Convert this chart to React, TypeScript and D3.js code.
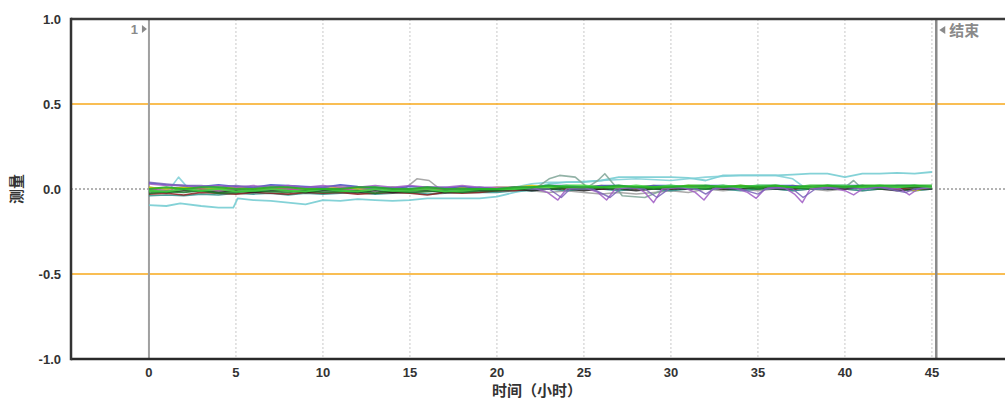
import React from 'react';
import * as d3 from 'd3';

const W = 1005;
const H = 401;

const hours = [
  0, 1, 2, 3, 4, 5, 6, 7, 8, 9,
  10, 11, 12, 13, 14, 15, 16, 17, 18, 19,
  20, 21, 22, 23, 24, 25, 26, 27, 28, 29,
  30, 31, 32, 33, 34, 35, 36, 37, 38, 39,
  40, 41, 42, 43, 44, 45,
];

const xTicks = [0, 5, 10, 15, 20, 25, 30, 35, 40, 45];
const yTicks = [1.0, 0.5, 0.0, -0.5, -1.0];
const yTickLabels = ['1.0', '0.5', '0.0', '-0.5', '-1.0'];
const limitLines = [0.5, -0.5];
const startMarker = { t: 0, label: '1' };
const endMarker = { t: 45.25, label: '结束' };
const xTitle = '时间（小时）';
const yTitle = '测量';

// hourly series
const greenSeries = [
  0.00, 0.01, 0.00, 0.01, 0.01, 0.00, 0.00, 0.01, 0.01, 0.00,
  0.00, 0.00, 0.01, 0.01, 0.00, 0.00, 0.01, 0.00, 0.00, 0.00,
  0.00, 0.01, 0.01, 0.02, 0.01, 0.01, 0.01, 0.02, 0.01, 0.01,
  0.01, 0.02, 0.02, 0.01, 0.02, 0.01, 0.02, 0.01, 0.02, 0.02,
  0.01, 0.02, 0.02, 0.02, 0.02, 0.02,
];
const limeSeries = [
  -0.01, -0.015, 0.00, -0.01, 0.00, -0.015, -0.01, 0.00, -0.01, -0.015,
  0.00, -0.01, -0.015, 0.00, -0.01, -0.01, 0.00, -0.015, -0.01, 0.00,
  0.00, 0.00, 0.01, 0.01, 0.02, 0.02, 0.01, 0.01, 0.02, 0.01,
  0.02, 0.01, 0.01, 0.02, 0.01, 0.02, 0.02, 0.01, 0.01, 0.02,
  0.02, 0.01, 0.02, 0.01, 0.02, 0.01,
];
const darkGreenSeries = [
  -0.025, -0.015, -0.02, -0.01, -0.025, -0.02, -0.01, -0.015, -0.02, -0.01,
  -0.02, -0.015, -0.01, -0.025, -0.01, -0.02, -0.015, -0.01, -0.02, -0.01,
  -0.01, 0.00, 0.00, 0.00, 0.01, 0.00, 0.01, 0.00, 0.01, 0.00,
  0.01, 0.01, 0.00, 0.01, 0.01, 0.00, 0.01, 0.01, 0.00, 0.01,
  0.01, 0.01, 0.00, 0.01, 0.01, 0.01,
];
const blackSeries = [
  -0.01, -0.02, -0.01, -0.01, -0.02, -0.01, -0.02, -0.01, -0.01, -0.02,
  -0.01, -0.01, -0.02, -0.01, -0.02, -0.01, -0.01, -0.02, -0.01, -0.01,
  -0.01, 0.00, -0.01, 0.00, 0.00, -0.01, 0.00, 0.00, -0.01, 0.00,
  0.00, 0.00, 0.01, 0.00, 0.00, 0.01, 0.00, 0.00, 0.01, 0.00,
  0.00, 0.01, 0.00, -0.01, 0.00, 0.00,
];
const darkRedSeries = [
  -0.03, -0.025, -0.035, -0.02, -0.025, -0.03, -0.02, -0.025, -0.03, -0.02,
  -0.025, -0.02, -0.03, -0.025, -0.02, -0.025, -0.035, -0.02, -0.025, -0.02,
  -0.01, -0.01, 0.00, 0.00, 0.01, 0.00, 0.00, 0.01, 0.00, 0.01,
  0.00, 0.01, 0.01, 0.00, 0.01, 0.01, 0.01, 0.00, 0.01, 0.01,
  0.01, 0.01, 0.01, 0.00, 0.01, 0.01,
];
const blueSeries = [
  0.035, 0.025, 0.02, 0.015, 0.025, 0.015, 0.01, 0.025, 0.02, 0.015,
  0.01, 0.025, 0.015, 0.01, 0.005, 0.015, 0.01, 0.005, 0.015, 0.005,
  0.00, 0.01, 0.01, 0.02, 0.02, 0.01, 0.02, 0.02, 0.01, 0.02,
  0.02, 0.01, 0.02, 0.02, 0.01, 0.02, 0.02, 0.02, 0.01, 0.02,
  0.02, 0.02, 0.01, 0.02, 0.02, 0.01,
];
const yellowSeries = [
  0.01, 0.00, 0.01, 0.00, 0.00, 0.01, 0.00, 0.00, 0.01, 0.00,
  0.00, 0.01, 0.00, 0.00, 0.01, 0.00, 0.00, 0.00, 0.01, 0.00,
  0.01, 0.01, 0.02, 0.01, 0.00, 0.01, 0.02, 0.01, 0.01, 0.02,
  0.01, 0.02, 0.01, 0.01, 0.02, 0.01, 0.01, 0.02, 0.01, 0.02,
  0.01, 0.02, 0.01, 0.01, -0.01, 0.01,
];
const magentaSeries = [
  0.00, -0.01, 0.00, 0.00, -0.01, 0.00, -0.01, 0.00, 0.00, -0.01,
  0.00, 0.00, -0.01, 0.00, 0.00, -0.01, 0.00, 0.00, -0.01, 0.00,
  0.00, 0.00, 0.01, 0.00, 0.01, 0.01, 0.00, 0.01, 0.01, 0.00,
  0.01, 0.00, 0.01, 0.01, 0.00, 0.01, 0.01, 0.00, 0.01, 0.01,
  0.00, 0.01, 0.01, 0.00, 0.01, 0.01,
];
const darkTealSeries = [
  -0.04, -0.035, -0.04, -0.03, -0.035, -0.025, -0.03, -0.025, -0.035, -0.025,
  -0.03, -0.025, -0.02, -0.03, -0.025, -0.02, -0.03, -0.025, -0.02, -0.02,
  -0.02, -0.01, -0.01, 0.00, -0.01, 0.00, 0.00, -0.01, 0.00, 0.00,
  -0.01, 0.00, 0.00, 0.00, -0.01, 0.00, 0.00, -0.01, 0.00, 0.00,
  0.00, -0.01, 0.00, 0.00, -0.01, 0.00,
];

// irregularly sampled series: [hour, value]
const cyanAPoints: [number, number][] = [
  [0, -0.095], [1, -0.10], [1.8, -0.085], [3, -0.10], [4, -0.11], [4.85, -0.11], [5.1, -0.055], [6, -0.065],
  [7, -0.07], [8, -0.08], [9, -0.09], [10, -0.065], [11, -0.07], [12, -0.06], [13, -0.065], [14, -0.07],
  [15, -0.065], [16, -0.055], [17, -0.055], [18, -0.055], [19, -0.055], [20, -0.045], [21, -0.02], [22, 0.0],
  [23, 0.03], [24, 0.04], [25, 0.04], [26, 0.05], [27, 0.07], [28, 0.07], [29, 0.07], [30, 0.07], [31, 0.065],
  [32, 0.05], [33, 0.08], [34, 0.08], [35, 0.08], [36, 0.08], [37, 0.085], [38, 0.09], [39, 0.09], [40, 0.07],
  [41, 0.09], [42, 0.09], [43, 0.095], [44, 0.09], [45, 0.10],
];
const purplePoints: [number, number][] = [
  [0, 0.03], [1, 0.02], [2, 0.02], [3, 0.01], [4, 0.02], [5, 0.01], [6, 0.02], [7, 0.01], [8, 0.02], [9, 0.01],
  [10, 0.02], [11, 0.01], [12, 0.01], [13, 0.02], [14, 0.01], [15, 0.02], [16, 0.01], [17, 0.01], [18, 0.02], [19, 0.01],
  [20, 0.01], [21, 0.01], [22, 0.01], [22.9, -0.02], [23.5, -0.065], [24.0, 0.0], [25, 0.01], [25.8, -0.02], [26.3, -0.065],
  [26.8, 0.0], [28, 0.01], [28.5, -0.02], [29.0, -0.08], [29.5, 0.0], [30.7, 0.01], [31.4, -0.02], [31.9, -0.065], [32.4, 0.0],
  [33.5, 0.01], [34.4, -0.02], [34.9, -0.055], [35.4, 0.0], [36.5, 0.01], [37.1, -0.03], [37.55, -0.08], [38.0, 0.0], [39, 0.01],
  [40, -0.01], [40.5, -0.035], [41, 0.0], [42, 0.01], [43.2, 0.0], [43.7, -0.035], [44.2, 0.0], [45, 0.01],
];
const violetPoints: [number, number][] = [
  [0, 0.04], [1, 0.03], [2, 0.02], [3, 0.02], [4, 0.01], [5, 0.02], [6, 0.01], [7, 0.02], [8, 0.01], [9, 0.01],
  [10, 0.01], [11, 0.02], [12, 0.01], [13, 0.00], [14, 0.01], [15, 0.00], [16, 0.01], [17, 0.01], [18, 0.00], [19, 0.01],
  [20, 0.00], [21, 0.01], [22, 0.00], [23, 0.00], [23.7, -0.05], [24.2, 0.00], [25.5, 0.00], [26.5, -0.05], [27.2, 0.01],
  [28.5, 0.00], [29.2, -0.05], [30, 0.01], [31.5, 0.00], [32.0, -0.03], [32.6, 0.01], [34, 0.00], [35.0, -0.03], [35.6, 0.01],
  [37.0, 0.00], [37.6, -0.05], [38.3, 0.00], [40, 0.01], [41, 0.00], [42, 0.01], [43.5, -0.02], [44, 0.00], [45, 0.01],
];
const grayPoints: [number, number][] = [
  [0, 0.01], [1, 0.00], [2, 0.01], [3, 0.00], [4, 0.00], [5, 0.01], [6, 0.00], [7, 0.01], [8, 0.00], [9, 0.00],
  [10, 0.01], [11, 0.00], [12, 0.00], [13, 0.01], [14, 0.00], [14.8, 0.01], [15.4, 0.06], [16.1, 0.05], [16.6, 0.01],
  [17, 0.00], [18, 0.00], [19, 0.01], [20, 0.00], [21, 0.00], [22, -0.01], [23, -0.02], [24, -0.01], [25, -0.02],
  [26, -0.03], [27, -0.02], [28, -0.03], [29, -0.02], [30, -0.01], [31, -0.02], [32, 0.00], [33, -0.01], [34, 0.00],
  [35, -0.01], [36, 0.00], [37, -0.01], [38, 0.00], [39, -0.01], [40, 0.00], [41, -0.01], [42, 0.00], [43, 0.00],
  [44, -0.01], [45, 0.00],
];
const grayGreenPoints: [number, number][] = [
  [0, 0.00], [2, 0.01], [4, 0.00], [6, 0.01], [8, 0.00], [10, 0.00], [12, 0.01], [14, 0.00], [16, 0.00], [18, 0.01],
  [20, 0.00], [21, 0.01], [22.3, 0.01], [23.0, 0.06], [23.6, 0.08], [24.5, 0.07], [25.2, 0.01], [25.8, 0.05],
  [26.2, 0.09], [26.7, 0.03], [27.2, -0.04], [28.5, -0.05], [29.2, -0.02], [30, 0.00], [32, 0.01], [34, 0.00],
  [36, 0.01], [38, 0.00], [40, 0.01], [40.5, 0.05], [41, 0.00], [42, 0.01], [44, 0.00], [45, 0.01],
];
const cyanBPoints: [number, number][] = [
  [0, -0.01], [1.2, 0.00], [1.7, 0.07], [2.3, 0.00], [3, -0.01], [4, -0.01], [5, 0.00], [6, -0.01], [8, 0.00],
  [10, -0.01], [12, 0.00], [14, -0.01], [16, 0.00], [18, -0.01], [20, 0.00], [21, 0.01], [22, 0.03], [23, 0.04],
  [24, 0.04], [26, 0.05], [28, 0.06], [30, 0.05], [31, 0.06], [32, 0.07], [34, 0.08], [35, 0.08], [36, 0.08],
  [37, 0.06], [37.8, 0.00], [39, 0.01], [41, 0.01], [43, 0.00], [45, 0.01],
];

const hourly = (vals: number[]): [number, number][] => hours.map((h, i) => [h, vals[i]]);

const seriesList: { name: string; color: string; width: number; pts: [number, number][] }[] = [
  { name: 'cyanA', color: '#6fcad0', width: 1.8, pts: cyanAPoints },
  { name: 'cyanB', color: '#7ccfd6', width: 1.6, pts: cyanBPoints },
  { name: 'gray', color: '#9a9a9a', width: 1.5, pts: grayPoints },
  { name: 'grayGreen', color: '#7fa597', width: 1.6, pts: grayGreenPoints },
  { name: 'darkTeal', color: '#2f8f8a', width: 1.6, pts: hourly(darkTealSeries) },
  { name: 'yellow', color: '#d4c400', width: 1.6, pts: hourly(yellowSeries) },
  { name: 'magenta', color: '#c0409a', width: 1.6, pts: hourly(magentaSeries) },
  { name: 'blue', color: '#3a4fc8', width: 1.6, pts: hourly(blueSeries) },
  { name: 'darkRed', color: '#8b1f1f', width: 1.6, pts: hourly(darkRedSeries) },
  { name: 'black', color: '#222222', width: 1.6, pts: hourly(blackSeries) },
  { name: 'darkGreen', color: '#1d7a2a', width: 1.8, pts: hourly(darkGreenSeries) },
  { name: 'purple', color: '#a05cc4', width: 1.5, pts: purplePoints },
  { name: 'violet', color: '#7a62b8', width: 1.5, pts: violetPoints },
  { name: 'lime', color: '#3fd43f', width: 2, pts: hourly(limeSeries) },
  { name: 'green', color: '#22b022', width: 2, pts: hourly(greenSeries) },
];

const FONT = "'Liberation Sans', Arial, 'Noto Sans CJK SC', sans-serif";

export default function App() {
  const left = 71;
  const top = 19;
  const bottom = 359;
  const x = d3.scaleLinear().domain([-4.48, 49.2]).range([left, W]);
  const y = d3.scaleLinear().domain([-1, 1]).range([bottom, top]);
  const line = d3
    .line<[number, number]>()
    .x((d) => x(d[0]))
    .y((d) => y(d[1]));

  return (
    <svg
      width={W}
      height={H}
      style={{ position: 'absolute', left: 0, top: 0, background: '#fff' }}
      fontFamily={FONT}
    >
      <rect x={0} y={0} width={W} height={H} fill="#fff" />
      {xTicks.map((t) => (
        <line
          key={'g' + t}
          x1={x(t)}
          x2={x(t)}
          y1={top}
          y2={bottom}
          stroke="#c8c8c8"
          strokeWidth={1}
          strokeDasharray="2,2"
        />
      ))}
      {limitLines.map((v) => (
        <line key={'l' + v} x1={left} x2={W} y1={y(v)} y2={y(v)} stroke="#f7a81b" strokeWidth={1.6} />
      ))}
      <line x1={left} x2={W} y1={y(0)} y2={y(0)} stroke="#666" strokeWidth={1} strokeDasharray="2,2" />
      <line x1={x(startMarker.t)} x2={x(startMarker.t)} y1={top} y2={bottom} stroke="#a0a0a0" strokeWidth={2} />
      <line x1={x(endMarker.t)} x2={x(endMarker.t)} y1={top} y2={bottom} stroke="#8a8a8a" strokeWidth={2.5} />
      {seriesList.map((s) => (
        <path
          key={s.name}
          d={line(s.pts) || ''}
          fill="none"
          stroke={s.color}
          strokeWidth={s.width}
          strokeLinejoin="round"
          strokeOpacity={0.85}
        />
      ))}
      <text x={x(startMarker.t) - 11} y={top + 15} fontSize={13} fontWeight="bold" fill="#8a8a8a" textAnchor="end">
        {startMarker.label}
      </text>
      <path
        d={`M${x(startMarker.t) - 7},${top + 6} L${x(startMarker.t) - 2},${top + 10} L${x(startMarker.t) - 7},${top + 14} Z`}
        fill="#8a8a8a"
      />
      <path
        d={`M${x(endMarker.t) + 9},${top + 7} L${x(endMarker.t) + 3},${top + 11} L${x(endMarker.t) + 9},${top + 15} Z`}
        fill="#8a8a8a"
      />
      <text x={x(endMarker.t) + 13} y={top + 17} fontSize={15} fontWeight="bold" fill="#8a8a8a">
        {endMarker.label}
      </text>
      <line x1={left} x2={W} y1={top} y2={top} stroke="#3a3a3a" strokeWidth={2.5} />
      <line x1={left} x2={W} y1={bottom} y2={bottom} stroke="#2a2a2a" strokeWidth={2.5} />
      <line x1={left} x2={left} y1={top - 1.25} y2={bottom + 1.25} stroke="#333" strokeWidth={2.5} />
      {yTicks.map((v, i) => (
        <text
          key={'yt' + v}
          x={61}
          y={y(v) + 5}
          fontSize={13}
          fontWeight="bold"
          fill="#333"
          textAnchor="end"
        >
          {yTickLabels[i]}
        </text>
      ))}
      {xTicks.map((t) => (
        <text key={'xt' + t} x={x(t)} y={377} fontSize={13} fontWeight="bold" fill="#333" textAnchor="middle">
          {t}
        </text>
      ))}
      <text x={537} y={396} fontSize={15} fontWeight="bold" fill="#333" textAnchor="middle">
        {xTitle}
      </text>
      <text
        transform={`translate(22, ${y(0)}) rotate(-90)`}
        fontSize={15}
        fontWeight="bold"
        fill="#333"
        textAnchor="middle"
      >
        {yTitle}
      </text>
    </svg>
  );
}
